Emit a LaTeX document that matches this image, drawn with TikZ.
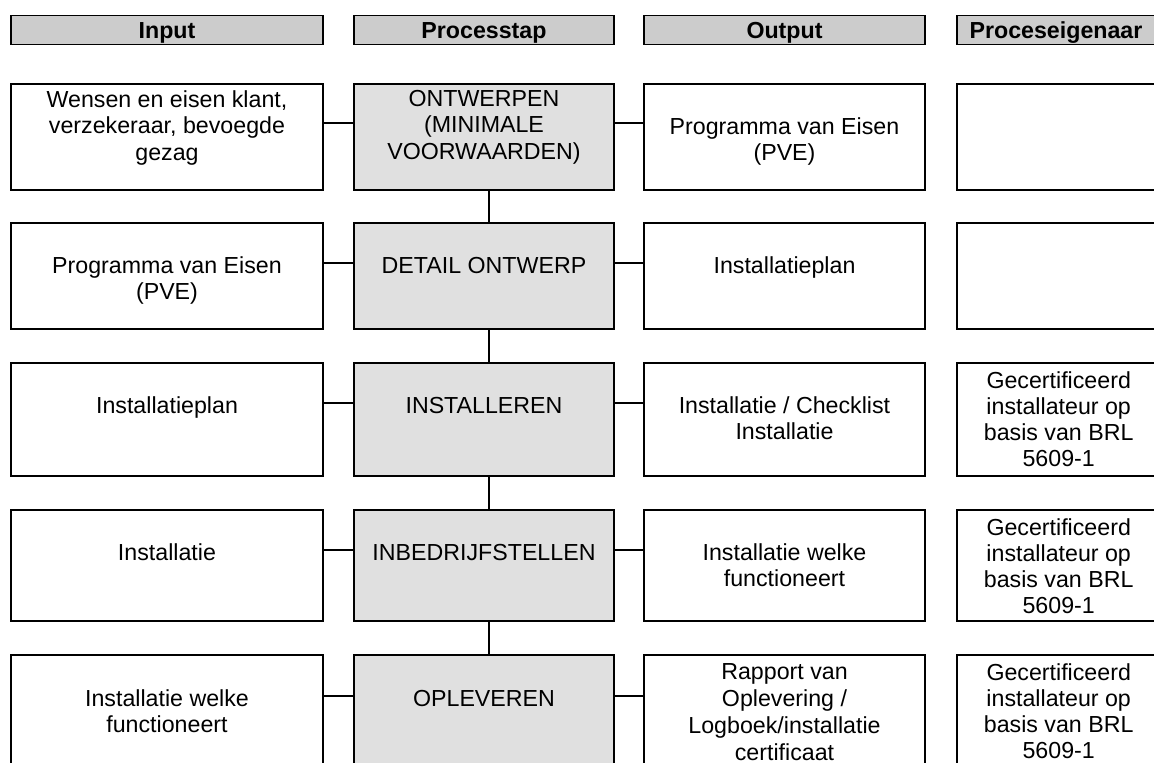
\documentclass[tikz,border=0pt]{standalone}
\usepackage{fontspec}
\setmainfont{Liberation Sans}
\definecolor{hdrgray}{HTML}{CCCCCC}
\definecolor{stepgray}{HTML}{E0E0E0}
\begin{document}
\begin{tikzpicture}[x=1pt,y=-1pt,
  frame/.style={draw=black,line width=1.3pt,inner sep=0pt,outer sep=0pt},
  hdr/.style={frame,fill=hdrgray,minimum height=29pt},
  box/.style={frame,fill=white},
  stepbox/.style={frame,fill=stepgray},
  txt/.style={anchor=north,inner sep=0pt,align=center,font=\fontsize{23.2pt}{#1}\selectfont},
  txt/.default=26.7pt,
  htxt/.style={anchor=base,inner sep=0pt,font=\fontsize{23.2pt}{26.7pt}\selectfont\bfseries},
  link/.style={line width=1.3pt}]
\useasboundingbox (0,0) rectangle (1154,763);
\clip (0,0) rectangle (1154,763);
\fill[white] (0,0) rectangle (1154,763);
% headers
\node[hdr,minimum width=312pt] (hIn) at (167,30) {};
\node[hdr,minimum width=260pt] (hPs) at (484,30) {};
\node[hdr,minimum width=281pt] (hOut) at (784.5,30) {};
\node[hdr,minimum width=205pt] (hPe) at (1059.5,30) {};
\node[htxt] (hInT) at (167,38.3) {Input};
\node[htxt] (hPsT) at (484,38.3) {Processtap};
\node[htxt] (hOutT) at (784.5,38.3) {Output};
\node[htxt] (hPeT) at (1056,38.3) {Proceseigenaar};
% boxes
\foreach \i/\cy/\h in {1/137/106,2/276/106,3/419.5/113,4/565.5/111,5/711.5/113}{
  \node[box,minimum width=312pt,minimum height=\h pt] (in\i) at (167,\cy) {};
  \node[stepbox,minimum width=260pt,minimum height=\h pt] (ps\i) at (484,\cy) {};
  \node[box,minimum width=281pt,minimum height=\h pt] (out\i) at (784.5,\cy) {};
  \node[box,minimum width=205pt,minimum height=\h pt] (pe\i) at (1059.5,\cy) {};
}
% connector levels
\coordinate (c1) at (0,123);
\coordinate (c2) at (0,263);
\coordinate (c3) at (0,403);
\coordinate (c4) at (0,550);
\coordinate (c5) at (0,696);
\foreach \i in {1,...,5}{
  \draw[link] (in\i.east |- c\i) -- (ps\i.west |- c\i);
  \draw[link] (ps\i.east |- c\i) -- (out\i.west |- c\i);
}
\foreach \i/\j in {1/2,2/3,3/4,4/5}{
  \draw[link] ([xshift=5pt]ps\i.south) -- ([xshift=5pt]ps\j.north);
}
% texts (north anchor = first baseline - 18)
% row 1
\node[txt] (in1t) at (167,89) {\rule{0pt}{18pt}Wensen en eisen klant,\\verzekeraar, bevoegde\\gezag};
\node[txt] (ps1t) at (484,88) {\rule{0pt}{18pt}ONTWERPEN\\(MINIMALE\\VOORWAARDEN)};
\node[txt] (out1t) at (784.5,116) {\rule{0pt}{18pt}Programma van Eisen\\(PVE)};
% row 2
\node[txt] (in2t) at (167,255) {\rule{0pt}{18pt}Programma van Eisen\\(PVE)};
\node[txt] (ps2t) at (484,255) {\rule{0pt}{18pt}DETAIL ONTWERP};
\node[txt] (out2t) at (784.5,255) {\rule{0pt}{18pt}Installatieplan};
% row 3
\node[txt] (in3t) at (167,395) {\rule{0pt}{18pt}Installatieplan};
\node[txt] (ps3t) at (484,395) {\rule{0pt}{18pt}INSTALLEREN};
\node[txt] (out3t) at (784.5,395) {\rule{0pt}{18pt}Installatie / Checklist\\Installatie};
\node[txt=26pt] (pe3t) at (1058.7,370.3) {\rule{0pt}{18pt}Gecertificeerd\\installateur op\\basis van BRL\\5609-1};
% row 4
\node[txt] (in4t) at (167,542) {\rule{0pt}{18pt}Installatie};
\node[txt] (ps4t) at (484,542) {\rule{0pt}{18pt}INBEDRIJFSTELLEN};
\node[txt] (out4t) at (784.5,542) {\rule{0pt}{18pt}Installatie welke\\functioneert};
\node[txt=26pt] (pe4t) at (1058.7,517) {\rule{0pt}{18pt}Gecertificeerd\\installateur op\\basis van BRL\\5609-1};
% row 5
\node[txt] (in5t) at (167,688) {\rule{0pt}{18pt}Installatie welke\\functioneert};
\node[txt] (ps5t) at (484,688) {\rule{0pt}{18pt}OPLEVEREN};
\node[txt=27pt] (out5t) at (784.5,661) {\rule{0pt}{18pt}Rapport van\\Oplevering /\\Logboek/installatie\\certificaat};
\node[txt=26pt] (pe5t) at (1058.7,662) {\rule{0pt}{18pt}Gecertificeerd\\installateur op\\basis van BRL\\5609-1};
\end{tikzpicture}
\end{document}
